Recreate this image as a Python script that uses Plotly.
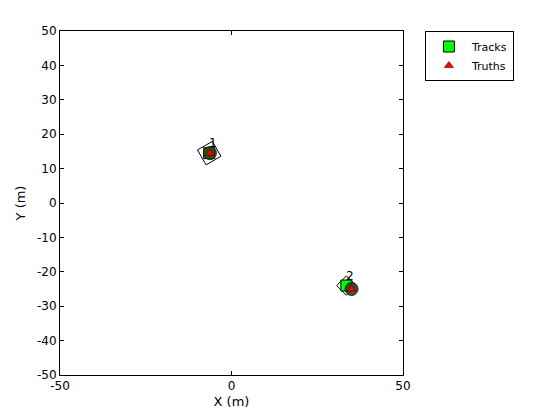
import numpy as np
import plotly.graph_objects as go

# Track data
track_ids = ["1", "2"]
track_x = [-6.5, 33.5]
track_y = [14.5, -24.0]
track_len = [5.0, 4.0]
track_wid = [5.0, 4.0]
track_yaw = [30.0, 45.0]  # degrees

# Truth data
truth_x = [-6.3, 35.0]
truth_y = [14.5, -25.0]

x_ticks = [-50, 0, 50]
y_ticks = [-50, -40, -30, -20, -10, 0, 10, 20, 30, 40, 50]

fig = go.Figure()

# Track extents (rotated rectangles)
for cx, cy, L, W, yaw in zip(track_x, track_y, track_len, track_wid, track_yaw):
    a = np.deg2rad(yaw)
    loc = np.array([[L/2, W/2], [-L/2, W/2], [-L/2, -W/2], [L/2, -W/2], [L/2, W/2]])
    R = np.array([[np.cos(a), -np.sin(a)], [np.sin(a), np.cos(a)]])
    pts = loc @ R.T
    fig.add_trace(go.Scatter(x=cx + pts[:, 0], y=cy + pts[:, 1], mode="lines",
                             line=dict(color="black", width=1), fill="toself",
                             fillcolor="rgba(255,255,255,0.6)",
                             showlegend=False, hoverinfo="skip"))

# Tracks
fig.add_trace(go.Scatter(x=track_x, y=track_y, mode="markers", name="Tracks",
                         marker=dict(symbol="square", size=11, color="#00ff00",
                                     line=dict(color="black", width=1))))

for tid, tx, ty in zip(track_ids, track_x, track_y):
    fig.add_annotation(x=tx, y=ty, text=tid, showarrow=False, xshift=4, yshift=10,
                       font=dict(family="DejaVu Sans", size=12, color="black"))

# Truth extents
fig.add_trace(go.Scatter(x=truth_x, y=truth_y, mode="markers", showlegend=False,
                         hoverinfo="skip",
                         marker=dict(symbol="circle", size=13, color="rgba(45,50,20,0.85)",
                                     line=dict(color="rgba(20,20,20,0.9)", width=1))))

# Truths
fig.add_trace(go.Scatter(x=truth_x, y=truth_y, mode="markers", name="Truths",
                         marker=dict(symbol="triangle-up", size=8, color="#ff0000",
                                     line=dict(color="black", width=0.5))))

axis_common = dict(showgrid=False, zeroline=False, showline=True, linecolor="black",
                   linewidth=1, mirror="ticks", ticks="inside", ticklen=4,
                   tickcolor="black", tickfont=dict(family="DejaVu Sans", size=12, color="black"))

fig.update_xaxes(range=[-50, 50], tickvals=x_ticks, ticktext=[str(v) for v in x_ticks],
                 title=dict(text="X (m)", font=dict(family="DejaVu Sans", size=13, color="black"),
                            standoff=4),
                 **axis_common)
fig.update_yaxes(range=[-50, 50], tickvals=y_ticks, ticktext=[str(v) for v in y_ticks],
                 title=dict(text="Y (m)", font=dict(family="DejaVu Sans", size=13, color="black"),
                            standoff=8),
                 **axis_common)

fig.update_layout(
    width=552, height=412,
    margin=dict(l=52, r=157, t=23, b=45, autoexpand=False),
    plot_bgcolor="white", paper_bgcolor="white",
    font=dict(family="DejaVu Sans", size=12, color="black"),
    legend=dict(x=1.064, y=1.0, xanchor="left", yanchor="top",
                bordercolor="black", borderwidth=1, bgcolor="white",
                font=dict(size=11), tracegroupgap=0, itemwidth=36),
)

fig.write_html("out.html")
